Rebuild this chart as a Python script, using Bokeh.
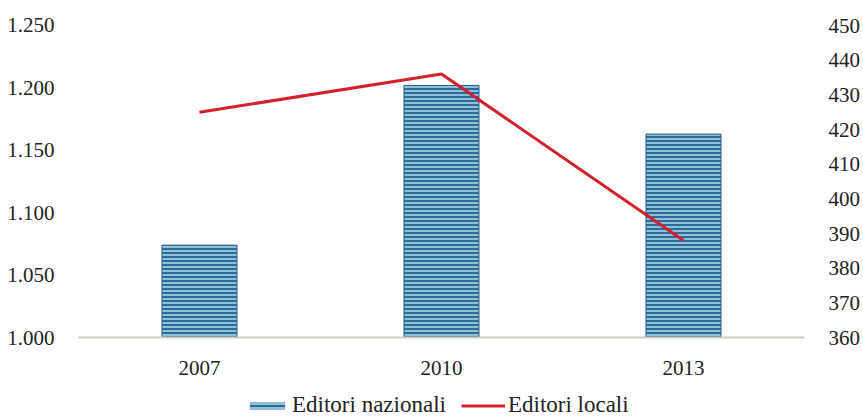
from bokeh.plotting import figure
from bokeh.layouts import column
from bokeh.models import Range1d, LinearAxis, FixedTicker, Legend, LegendItem, ColumnDataSource
from bokeh.embed import file_html
from bokeh.resources import INLINE

years = ["2007", "2010", "2013"]
nazionali = [1074, 1202, 1163]
locali = [425, 436, 388]
left_ticks = [1000, 1050, 1100, 1150, 1200, 1250]
left_labels = ["1.000", "1.050", "1.100", "1.150", "1.200", "1.250"]
right_ticks = [360, 370, 380, 390, 400, 410, 420, 430, 440, 450]
series_names = ["Editori nazionali", "Editori locali"]

FONT = "Liberation Serif"
FS = "21px"
BAR_STYLE = dict(fill_color="#2c6a98", line_color="#285a84", line_width=1,
                 hatch_pattern="horizontal_line", hatch_color="#b0dcf0",
                 hatch_scale=4, hatch_weight=1.5)
LINE_STYLE = dict(line_color="#d4202c", line_width=3)

p = figure(width=863, height=383, x_range=years, y_range=Range1d(1000, 1258),
           output_backend="svg", toolbar_location=None,
           min_border_left=78, min_border_right=55, min_border_top=15, min_border_bottom=46)
p.outline_line_color = None
p.xgrid.grid_line_color = None
p.ygrid.grid_line_color = None
p.x_range.range_padding = 0

src = ColumnDataSource(dict(x=years, nat=nazionali, loc=locali))

p.vbar(x="x", top="nat", bottom=1000, width=0.31, source=src, **BAR_STYLE)

p.extra_y_ranges = {"right": Range1d(360, 452.9)}
p.line(x="x", y="loc", source=src, y_range_name="right", **LINE_STYLE)

# left axis
ya = p.yaxis[0]
ya.ticker = FixedTicker(ticks=left_ticks)
ya.major_label_overrides = {t: l for t, l in zip(left_ticks, left_labels)}
ya.axis_line_color = None
ya.major_tick_line_color = None
ya.minor_tick_line_color = None
ya.major_label_text_font = FONT
ya.major_label_text_font_size = FS
ya.major_label_text_color = "#222222"
ya.major_label_standoff = 18

ra = LinearAxis(y_range_name="right", ticker=FixedTicker(ticks=right_ticks))
ra.axis_line_color = None
ra.major_tick_line_color = None
ra.minor_tick_line_color = None
ra.major_label_text_font = FONT
ra.major_label_text_font_size = FS
ra.major_label_text_color = "#222222"
ra.major_label_standoff = 18
p.add_layout(ra, "right")

xa = p.xaxis[0]
xa.axis_line_color = "#cfcdb8"
xa.axis_line_width = 2
xa.major_tick_line_color = None
xa.minor_tick_line_color = None
xa.major_label_text_font = FONT
xa.major_label_text_font_size = FS
xa.major_label_text_color = "#222222"
xa.major_label_standoff = 17

# legend strip (its own small figure; its series lie far outside its visible range)
lg = figure(width=863, height=35, x_range=years, y_range=Range1d(5000, 5001),
            output_backend="svg", toolbar_location=None,
            min_border=0, min_border_left=0, min_border_right=0,
            min_border_top=0, min_border_bottom=0)
lg.axis.visible = False
lg.grid.visible = False
lg.outline_line_color = None
LEG_BAR_STYLE = dict(BAR_STYLE, line_color=None)
r_bar = lg.vbar(x="x", top="nat", bottom="nat", width=0, source=src, **LEG_BAR_STYLE)
r_line = lg.line(x="x", y="loc", source=src, **LINE_STYLE)

legend = Legend(items=[LegendItem(label=series_names[0], renderers=[r_bar]),
                       LegendItem(label=series_names[1], renderers=[r_line])],
                orientation="horizontal", location=(167, 0),
                label_text_font=FONT, label_text_font_size="23px",
                label_text_color="#222222",
                glyph_width=44, glyph_height=9, spacing=15,
                border_line_color=None, background_fill_alpha=0,
                padding=0, margin=0, label_standoff=3)
lg.add_layout(legend, "center")

layout = column(p, lg, spacing=0)
open("out.html", "w").write(file_html(layout, INLINE))
